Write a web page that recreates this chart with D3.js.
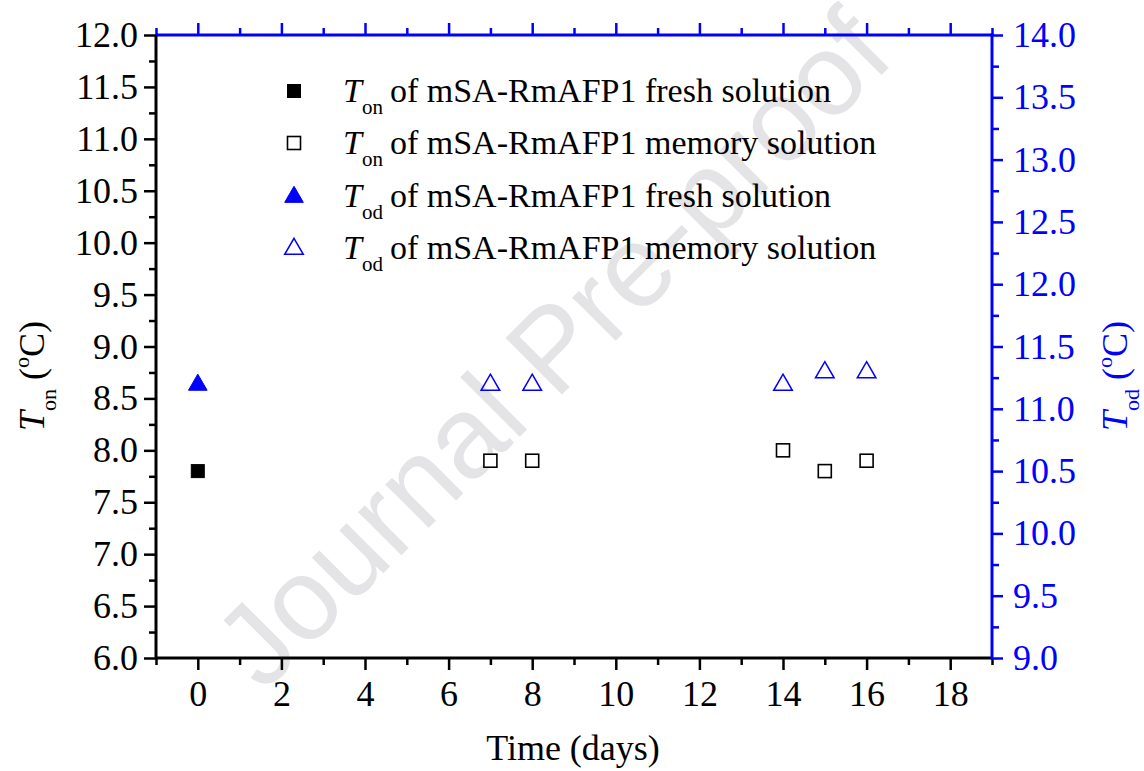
<!DOCTYPE html>
<html>
<head>
<meta charset="utf-8">
<script src="https://cdn.jsdelivr.net/npm/d3@7"></script>
<style>
  body { margin: 0; background: #fff; }
  svg { display: block; font-family: "Liberation Serif", "Times New Roman", serif; }
</style>
</head>
<body>
<svg id="chart" width="1144" height="771"></svg>
<script>
// Ton (left axis) and Tod (right axis) readings per day
const onFreshDays = [0];
const onFreshVals = [7.8];
const onMemDays = [7, 8, 14, 15, 16];
const onMemVals = [7.9, 7.9, 8.0, 7.8, 7.9];
const odFreshDays = [0];
const odFreshVals = [11.2];
const odMemDays = [7, 8, 14, 15, 16];
const odMemVals = [11.2, 11.2, 11.2, 11.3, 11.3];

const legendLabels = [
  { sub: 'on', text: 'of mSA-RmAFP1 fresh solution' },
  { sub: 'on', text: 'of mSA-RmAFP1 memory solution' },
  { sub: 'od', text: 'of mSA-RmAFP1 fresh solution' },
  { sub: 'od', text: 'of mSA-RmAFP1 memory solution' }
];

const blue = '#0000ff';
const pLeft = 156, pRight = 992, pTop = 35, pBottom = 658;

const svg = d3.select('#chart');

const x = d3.scaleLinear().domain([-1, 19]).range([pLeft, pRight]);
const yL = d3.scaleLinear().domain([6, 12]).range([pBottom, pTop]);
const yR = d3.scaleLinear().domain([9, 14]).range([pBottom, pTop]);

// watermark behind everything
svg.append('text')
  .attr('transform', 'translate(552,348) rotate(-45)')
  .attr('text-anchor', 'middle')
  .attr('dominant-baseline', 'central')
  .style('font-family', '"Liberation Sans", Arial, sans-serif')
  .style('font-size', '116px')
  .attr('fill', '#e4e4e6')
  .text('Journal Pre-proof');

const xMajor = d3.range(0, 19, 2);
const xMinor = d3.range(-1, 20, 2);
const yLMajor = d3.range(6, 12.01, 0.5);
const yLMinor = d3.range(6.25, 12, 0.5);
const yRMajor = d3.range(9, 14.01, 0.5);
const yRMinor = d3.range(9.25, 14, 0.5);

function styleAxis(g, color) {
  g.select('.domain').remove();
  g.selectAll('line').attr('stroke', color).attr('stroke-width', 2.5);
  g.selectAll('text').attr('fill', color).style('font-size', '36px')
    .style('font-family', '"Liberation Serif", "Times New Roman", serif');
}

// bottom
svg.append('g').attr('transform', `translate(0,${pBottom})`)
  .call(d3.axisBottom(x).tickValues(xMinor).tickSize(7).tickFormat(''))
  .call(g => styleAxis(g, '#000'));
svg.append('g').attr('transform', `translate(0,${pBottom})`)
  .call(d3.axisBottom(x).tickValues(xMajor).tickSize(12).tickPadding(10).tickFormat(d3.format('d')))
  .call(g => styleAxis(g, '#000'));

// top
svg.append('g').attr('transform', `translate(0,${pTop})`)
  .call(d3.axisTop(x).tickValues(xMinor).tickSize(7).tickFormat(''))
  .call(g => styleAxis(g, blue));
svg.append('g').attr('transform', `translate(0,${pTop})`)
  .call(d3.axisTop(x).tickValues(xMajor).tickSize(12).tickFormat(''))
  .call(g => styleAxis(g, blue));

// left
svg.append('g').attr('transform', `translate(${pLeft},0)`)
  .call(d3.axisLeft(yL).tickValues(yLMinor).tickSize(7).tickFormat(''))
  .call(g => styleAxis(g, '#000'));
svg.append('g').attr('transform', `translate(${pLeft},0)`)
  .call(d3.axisLeft(yL).tickValues(yLMajor).tickSize(12).tickPadding(6).tickFormat(d3.format('.1f')))
  .call(g => styleAxis(g, '#000'));

// right
svg.append('g').attr('transform', `translate(${pRight},0)`)
  .call(d3.axisRight(yR).tickValues(yRMinor).tickSize(7).tickFormat(''))
  .call(g => styleAxis(g, blue));
svg.append('g').attr('transform', `translate(${pRight},0)`)
  .call(d3.axisRight(yR).tickValues(yRMajor).tickSize(11).tickPadding(10).tickFormat(d3.format('.1f')))
  .call(g => styleAxis(g, blue));

// frame lines
svg.append('line').attr('x1', pLeft).attr('x2', pRight).attr('y1', pTop).attr('y2', pTop)
  .attr('stroke', blue).attr('stroke-width', 3);
svg.append('line').attr('x1', pLeft).attr('x2', pRight).attr('y1', pBottom).attr('y2', pBottom)
  .attr('stroke', '#000').attr('stroke-width', 3);
svg.append('line').attr('x1', pLeft).attr('x2', pLeft).attr('y1', pTop).attr('y2', pBottom + 1.5)
  .attr('stroke', '#000').attr('stroke-width', 3);
svg.append('line').attr('x1', pRight).attr('x2', pRight).attr('y1', pTop - 1.5).attr('y2', pBottom + 1.5)
  .attr('stroke', blue).attr('stroke-width', 3);

// markers
const sq = 13;
const tri = d3.symbol().type(d3.symbolTriangle).size(150);

function squares(days, vals, filled) {
  svg.append('g').selectAll('rect')
    .data(days.map((d, i) => [d, vals[i]])).enter()
    .append('rect')
    .attr('x', d => x(d[0]) - sq / 2)
    .attr('y', d => yL(d[1]) - sq / 2)
    .attr('width', sq).attr('height', sq)
    .attr('fill', filled ? '#000' : '#fff')
    .attr('stroke', '#000').attr('stroke-width', filled ? 1 : 1.6);
}
function triangles(days, vals, filled) {
  svg.append('g').selectAll('path')
    .data(days.map((d, i) => [d, vals[i]])).enter()
    .append('path')
    .attr('d', tri)
    .attr('transform', d => `translate(${x(d[0])},${yR(d[1]) + 1})`)
    .attr('fill', filled ? blue : 'none')
    .attr('stroke', blue).attr('stroke-width', filled ? 1 : 1.5);
}
squares(onFreshDays, onFreshVals, true);
squares(onMemDays, onMemVals, false);
triangles(odFreshDays, odFreshVals, true);
triangles(odMemDays, odMemVals, false);

// legend
const legY = [91, 143, 196, 248];
const leg = svg.append('g');
legendLabels.forEach((l, i) => {
  const cy = legY[i];
  if (i < 2) {
    leg.append('rect').attr('x', 294 - sq / 2).attr('y', cy - sq / 2)
      .attr('width', sq).attr('height', sq)
      .attr('fill', i === 0 ? '#000' : '#fff')
      .attr('stroke', '#000').attr('stroke-width', i === 0 ? 1 : 1.6);
  } else {
    leg.append('path').attr('d', tri)
      .attr('transform', `translate(294,${cy + 1})`)
      .attr('fill', i === 2 ? blue : 'none')
      .attr('stroke', blue).attr('stroke-width', i === 2 ? 1 : 1.5);
  }
  const t = leg.append('text').attr('x', 343).attr('y', cy + 11)
    .style('font-size', '34px').attr('fill', '#000');
  t.append('tspan').style('font-style', 'italic').text('T');
  t.append('tspan').attr('dy', 12).style('font-size', '21px').text(l.sub);
  t.append('tspan').attr('dy', -12).attr('dx', 7).text(l.text);
});

// axis titles
svg.append('text').attr('x', 573).attr('y', 760)
  .attr('text-anchor', 'middle').style('font-size', '36px').text('Time (days)');

function yTitle(xPos, yPos, sub, color) {
  const t = svg.append('text')
    .attr('transform', `translate(${xPos},${yPos}) rotate(-90)`)
    .attr('text-anchor', 'middle').style('font-size', '36px').attr('fill', color);
  t.append('tspan').style('font-style', 'italic').text('T');
  t.append('tspan').attr('dy', 12).style('font-size', '22px').text(sub);
  t.append('tspan').attr('dy', -12).text(' (');
  t.append('tspan').attr('dy', -15).style('font-size', '22px').text('o');
  t.append('tspan').attr('dy', 15).text('C)');
}
yTitle(44, 376, 'on', '#000');
yTitle(1127, 376, 'od', blue);
</script>
</body>
</html>
